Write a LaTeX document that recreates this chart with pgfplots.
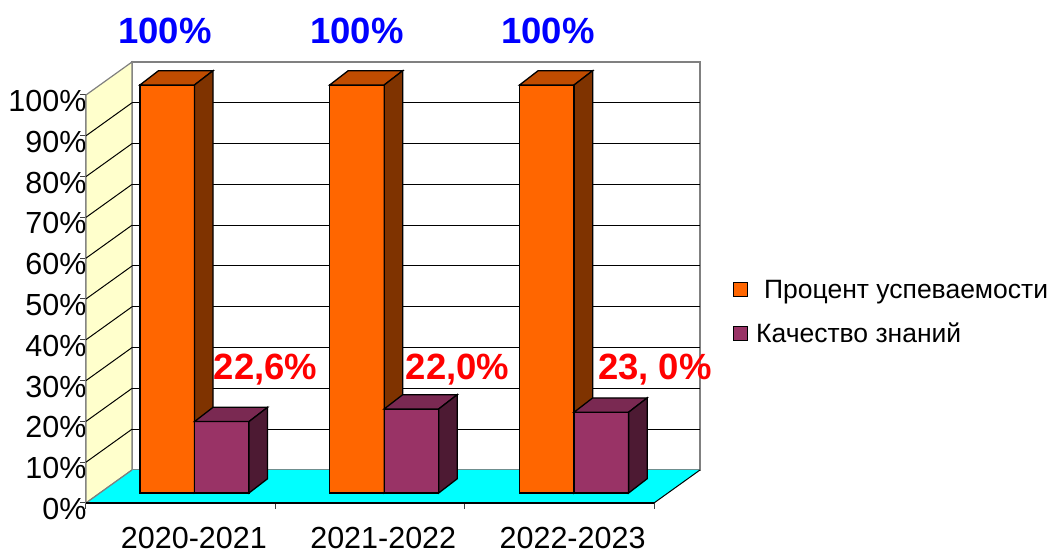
\documentclass[border=0pt]{standalone}
\usepackage{fontspec}
\setmainfont{Liberation Sans}
\usepackage{pgfplots}
\pgfplotsset{compat=1.18}
\definecolor{orF}{HTML}{FF6600}
\definecolor{orT}{HTML}{C04C00}
\definecolor{orS}{HTML}{7F3300}
\definecolor{puF}{HTML}{993366}
\definecolor{puT}{HTML}{7A2952}
\definecolor{puS}{HTML}{4D1A33}
\definecolor{wallY}{HTML}{FFFFCC}
\definecolor{floorC}{HTML}{00FFFF}
\definecolor{edgeG}{HTML}{808080}
\begin{document}
\begin{tikzpicture}
\begin{axis}[
  scale only axis, width=568pt, height=408pt,
  xmin=0, xmax=3, ymin=0, ymax=100,
  clip=false, enlargelimits=false,
  axis x line*=bottom, axis y line*=left,
  axis line style={draw=edgeG, line width=1pt},
  tick align=outside, major tick length=6pt,
  tick style={draw=black!75, line width=1pt},
  ytick={0,10,...,100},
  yticklabels={0\%,10\%,20\%,30\%,40\%,50\%,60\%,70\%,80\%,90\%,100\%},
  yticklabel style={font=\fontsize{30.5}{36}\selectfont, yshift=-6pt, xshift=10pt},
  xtick={0,1,2,3}, xticklabels={},
  extra x ticks={0.57,1.57,2.57},
  extra x tick labels={2020-2021,2021-2022,2022-2023},
  extra x tick style={major tick length=0pt, xticklabel style={font=\fontsize{30.5}{36}\selectfont, inner sep=0pt, yshift=-24pt}},
  unbounded coords=jump,
  legend cell align=left,
  legend style={at={(axis cs:3.417,55.2)}, anchor=north west, draw=none, fill=none, inner sep=0pt,
     font=\fontsize{26.5}{31}\selectfont, row sep=19pt, column sep=6pt},
  legend image code/.code={\draw[#1,draw=black,line width=1pt] (0pt,-7pt) rectangle (14pt,7pt);},
  face/.style={draw=black, line width=1.3pt, mark=none},
]
% invisible frame giving the picture its size
\path (axis cs:-0.4542,-12.5) rectangle (axis cs:5.1074,123.28);

% back wall
\addplot[fill=white, draw=edgeG, line width=1.2pt, forget plot] coordinates {(0.243,8.09) (3.243,8.09) (3.243,108.09) (0.243,108.09)} -- cycle;
% left wall
\addplot[fill=wallY, draw=edgeG, line width=1.2pt, forget plot] coordinates {(0,0) (0.243,8.09) (0.243,108.09) (0,100)} -- cycle;
% gridlines on back wall
\addplot[black, line width=1pt, forget plot, mark=none] coordinates {
 (0.243,18.09) (3.243,18.09) (nan,nan)
 (0.243,28.09) (3.243,28.09) (nan,nan)
 (0.243,38.09) (3.243,38.09) (nan,nan)
 (0.243,48.09) (3.243,48.09) (nan,nan)
 (0.243,58.09) (3.243,58.09) (nan,nan)
 (0.243,68.09) (3.243,68.09) (nan,nan)
 (0.243,78.09) (3.243,78.09) (nan,nan)
 (0.243,88.09) (3.243,88.09) (nan,nan)
 (0.243,98.09) (3.243,98.09)};
% gridlines on left wall
\addplot[black, line width=1pt, forget plot, mark=none] coordinates {
 (0,10) (0.243,18.09) (nan,nan)
 (0,20) (0.243,28.09) (nan,nan)
 (0,30) (0.243,38.09) (nan,nan)
 (0,40) (0.243,48.09) (nan,nan)
 (0,50) (0.243,58.09) (nan,nan)
 (0,60) (0.243,68.09) (nan,nan)
 (0,70) (0.243,78.09) (nan,nan)
 (0,80) (0.243,88.09) (nan,nan)
 (0,90) (0.243,98.09)};
% floor
\addplot[fill=floorC, draw=none, forget plot] coordinates {(0,0) (3,0) (3.243,8.09) (0.243,8.09)} -- cycle;
\addplot[edgeG, line width=1.2pt, forget plot, mark=none] coordinates {(0,0) (0.243,8.09)};
\addplot[black, line width=1pt, forget plot, mark=none] coordinates {(3,0) (3.243,8.09)};
\addplot[black, line width=1.5pt, forget plot, mark=none] coordinates {(0,0) (3,0)};

% ---- 2020-2021
\addplot[face, fill=orF] coordinates {(0.285,2.45) (0.573,2.45) (0.573,102.45) (0.285,102.45)} -- cycle;
\addlegendentry{\hspace*{8pt}Процент успеваемости}
\addplot[face, fill=orT, forget plot] coordinates {(0.285,102.45) (0.573,102.45) (0.671,105.95) (0.383,105.95)} -- cycle;
\addplot[face, fill=orS, forget plot] coordinates {(0.573,2.45) (0.671,5.95) (0.671,105.95) (0.573,102.45)} -- cycle;
\addplot[face, fill=puF] coordinates {(0.573,2.45) (0.861,2.45) (0.861,19.95) (0.573,19.95)} -- cycle;
\addlegendentry{Качество знаний}
\addplot[face, fill=puT, forget plot] coordinates {(0.573,19.95) (0.861,19.95) (0.959,23.45) (0.671,23.45)} -- cycle;
\addplot[face, fill=puS, forget plot] coordinates {(0.861,2.45) (0.959,5.95) (0.959,23.45) (0.861,19.95)} -- cycle;

% ---- 2021-2022
\addplot[face, fill=orF, forget plot] coordinates {(1.287,2.45) (1.575,2.45) (1.575,102.45) (1.287,102.45)} -- cycle;
\addplot[face, fill=orT, forget plot] coordinates {(1.287,102.45) (1.575,102.45) (1.673,105.95) (1.385,105.95)} -- cycle;
\addplot[face, fill=orS, forget plot] coordinates {(1.575,2.45) (1.673,5.95) (1.673,105.95) (1.575,102.45)} -- cycle;
\addplot[face, fill=puF, forget plot] coordinates {(1.575,2.45) (1.863,2.45) (1.863,23.05) (1.575,23.05)} -- cycle;
\addplot[face, fill=puT, forget plot] coordinates {(1.575,23.05) (1.863,23.05) (1.961,26.55) (1.673,26.55)} -- cycle;
\addplot[face, fill=puS, forget plot] coordinates {(1.863,2.45) (1.961,5.95) (1.961,26.55) (1.863,23.05)} -- cycle;

% ---- 2022-2023
\addplot[face, fill=orF, forget plot] coordinates {(2.290,2.45) (2.578,2.45) (2.578,102.45) (2.290,102.45)} -- cycle;
\addplot[face, fill=orT, forget plot] coordinates {(2.290,102.45) (2.578,102.45) (2.676,105.95) (2.388,105.95)} -- cycle;
\addplot[face, fill=orS, forget plot] coordinates {(2.578,2.45) (2.676,5.95) (2.676,105.95) (2.578,102.45)} -- cycle;
\addplot[face, fill=puF, forget plot] coordinates {(2.578,2.45) (2.866,2.45) (2.866,22.25) (2.578,22.25)} -- cycle;
\addplot[face, fill=puT, forget plot] coordinates {(2.578,22.25) (2.866,22.25) (2.964,25.75) (2.676,25.75)} -- cycle;
\addplot[face, fill=puS, forget plot] coordinates {(2.866,2.45) (2.964,5.95) (2.964,25.75) (2.866,22.25)} -- cycle;

% data labels
\node[anchor=base, inner sep=0pt, text=blue, font=\fontsize{36.5}{40}\selectfont\bfseries] at (axis cs:0.417,112.7) {100\%};
\node[anchor=base, inner sep=0pt, text=blue, font=\fontsize{36.5}{40}\selectfont\bfseries] at (axis cs:1.431,112.7) {100\%};
\node[anchor=base, inner sep=0pt, text=blue, font=\fontsize{36.5}{40}\selectfont\bfseries] at (axis cs:2.440,112.7) {100\%};
\node[anchor=base, inner sep=0pt, text=red, font=\fontsize{36.5}{40}\selectfont\bfseries] at (axis cs:0.948,30.2) {22,6\%};
\node[anchor=base, inner sep=0pt, text=red, font=\fontsize{36.5}{40}\selectfont\bfseries] at (axis cs:1.962,30.2) {22,0\%};
\node[anchor=base, inner sep=0pt, text=red, font=\fontsize{36.5}{40}\selectfont\bfseries] at (axis cs:3.005,30.2) {23, 0\%};
\end{axis}
\end{tikzpicture}
\end{document}
